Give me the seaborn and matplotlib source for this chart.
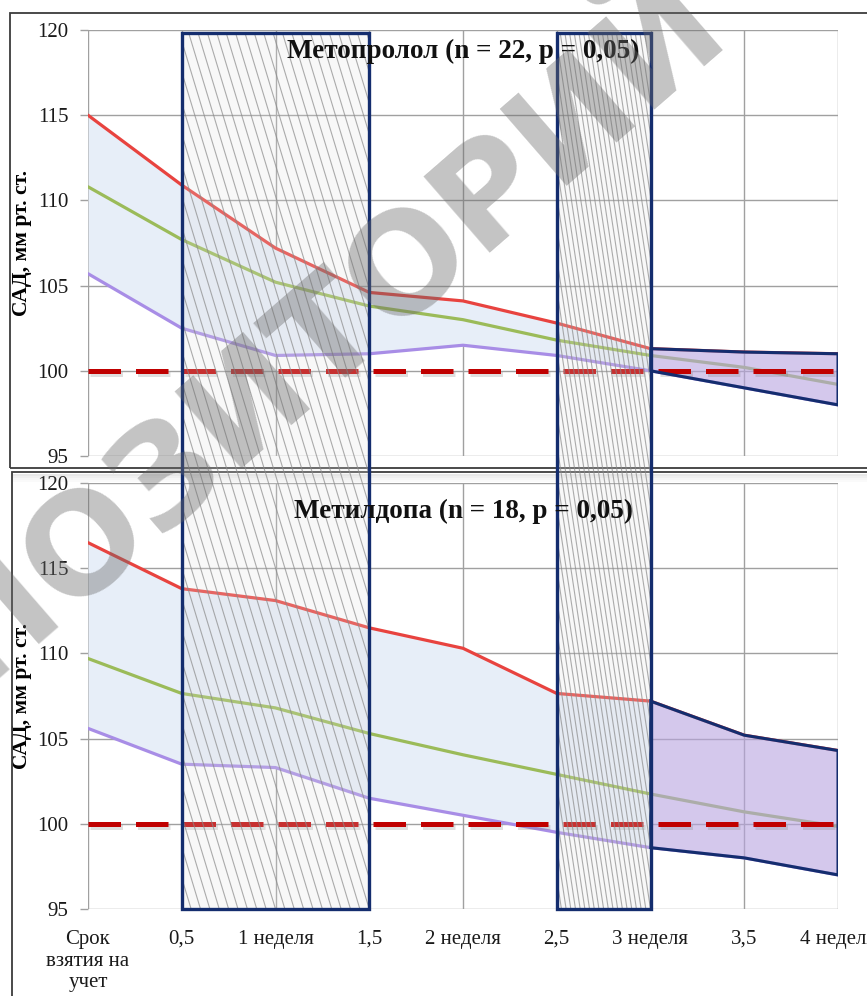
import numpy as np
import pandas as pd
import matplotlib
matplotlib.use("Agg")
import matplotlib.pyplot as plt
import seaborn as sns
from matplotlib.patches import Rectangle, Polygon
from matplotlib.lines import Line2D
import matplotlib.patheffects as pe

# ---------------- data ----------------
x_labels = ["Срок\nвзятия на\nучет", "0,5", "1 неделя", "1,5", "2 неделя",
            "2,5", "3 неделя", "3,5", "4 неделя"]
x_pos = list(range(len(x_labels)))

meto_upper = [115.0, 110.9, 107.2, 104.6, 104.1, 102.8, 101.3, 101.1, 101.0]
meto_mean = [110.8, 107.7, 105.2, 103.8, 103.0, 101.8, 100.9, 100.2, 99.2]
meto_lower = [105.7, 102.5, 100.9, 101.0, 101.5, 100.9, 100.0, 99.0, 98.0]

metil_upper = [116.5, 113.8, 113.1, 111.5, 110.3, 107.65, 107.2, 105.2, 104.3]
metil_mean = [109.7, 107.65, 106.8, 105.3, 104.05, 102.9, 101.75, 100.7, 99.85]
metil_lower = [105.6, 103.5, 103.3, 101.5, 100.5, 99.5, 98.6, 98.0, 97.0]

titles = ["Метопролол (n = 22, p = 0,05)", "Метилдопа (n = 18, p = 0,05)"]
ylabel = "САД, мм рт. ст."
reference_level = 100
y_ticks = [95, 100, 105, 110, 115, 120]
highlight_spans = [(1, 3), (5, 6)]   # x positions: 0,5–1,5 and 2,5–3 недели
final_span_start = 6                 # from "3 неделя" to the end
watermark = "РЕПОЗИТОРИЙ"

# ---------------- style ----------------
sns.set_theme(style="white")
plt.rcParams['font.family'] = ['Liberation Serif', 'DejaVu Serif']

RED = "#e8433f"
GREEN = "#9bbb59"
PURPLE = "#a88de6"
FILL_BLUE = "#e7eef8"
FILL_PURPLE = "#b8a4e0"
NAVY = "#142d6e"
DASH_RED = "#c00000"
GRID = "#a0a0a0"

W, H = 867, 996
fig = plt.figure(figsize=(W / 100, H / 100), dpi=100)

def fx(px):
    return px / W

def fy(py):
    return 1 - py / H

ax_top = fig.add_axes([fx(88), fy(456), fx(838) - fx(88), fy(30) - fy(456)])
ax_bot = fig.add_axes([fx(88), fy(909), fx(838) - fx(88), fy(483) - fy(909)])

panels = [
    (ax_top, meto_upper, meto_mean, meto_lower, titles[0], 0.95),
    (ax_bot, metil_upper, metil_mean, metil_lower, titles[1], 0.934),
]

for ax, up, mid, lo, title, ty in panels:
    ax.set_xlim(0, len(x_pos) - 1)
    ax.set_ylim(min(y_ticks), max(y_ticks))
    ax.set_xticks(x_pos)
    ax.set_yticks(y_ticks)
    ax.grid(True, color=GRID, lw=1.0)
    ax.set_axisbelow(True)
    for s in ax.spines.values():
        s.set_visible(False)

    xs = np.array(x_pos, dtype=float)
    up_a, lo_a = np.array(up), np.array(lo)
    mask = xs <= final_span_start
    ax.fill_between(xs[mask], lo_a[mask], up_a[mask], color=FILL_BLUE, lw=0, zorder=1)

    df = pd.DataFrame({"x": xs, "up": up, "mid": mid, "lo": lo})
    sns.lineplot(data=df, x="x", y="up", color=RED, lw=2.3, ax=ax, zorder=3)
    sns.lineplot(data=df, x="x", y="mid", color=GREEN, lw=2.3, ax=ax, zorder=3)
    sns.lineplot(data=df, x="x", y="lo", color=PURPLE, lw=2.3, ax=ax, zorder=3)

    m2 = xs >= final_span_start
    poly_pts = list(zip(xs[m2], up_a[m2])) + list(zip(xs[m2][::-1], lo_a[m2][::-1]))
    ax.add_patch(Polygon(poly_pts, closed=True, facecolor=FILL_PURPLE, alpha=0.6,
                         edgecolor='none', zorder=4))
    ax.add_patch(Polygon(poly_pts, closed=True, facecolor='none',
                         edgecolor=NAVY, lw=2.2, zorder=6))

    ax.axhline(reference_level, color=DASH_RED, lw=3.6, dashes=(6.5, 3.0), zorder=5,
               path_effects=[pe.SimpleLineShadow(offset=(1.5, -2.5), alpha=0.25,
                                                 shadow_color='gray'), pe.Normal()])

    ax.tick_params(axis='y', length=6, color=GRID, width=1, pad=8, labelsize=15,
                   labelcolor='#1a1a1a', left=True)
    ax.set_ylabel(ylabel, fontsize=15.5, fontweight='bold', color='black')
    ax.yaxis.set_label_coords(-0.075, 0.5)
    ax.set_xlabel("")

    fig.text(0.5, ty, title, transform=ax.transAxes, ha='center', va='center',
             fontsize=19.5, fontweight='bold', color='#111111', zorder=8)

ax_top.tick_params(axis='x', length=0, labelbottom=False)
ax_bot.set_xticklabels(x_labels)
ax_bot.tick_params(axis='x', length=0, pad=15, labelsize=15, labelcolor='#1a1a1a')
for t in ax_bot.get_xticklabels():
    t.set_linespacing(1.2)
    t.set_verticalalignment('top')

# ---------------- panel frames ----------------
fig.add_artist(Rectangle((fx(10), fy(468)), fx(875) - fx(10), fy(13) - fy(468),
                         transform=fig.transFigure, fill=False, ec='#3c3c3c', lw=1.3, zorder=0.5))
fig.add_artist(Rectangle((fx(12), fy(1005)), fx(875) - fx(12), fy(472) - fy(1005),
                         transform=fig.transFigure, fill=False, ec='#3c3c3c', lw=1.3, zorder=0.5))
for i, a in enumerate([0.18, 0.12, 0.07, 0.04]):
    fig.add_artist(Rectangle((fx(12), fy(476 + 2 * i)), fx(875) - fx(12), fx(2) * W / H,
                             transform=fig.transFigure, fc='gray', ec='none', alpha=a, zorder=0.4))

# ---------------- highlighted periods (spanning both panels) ----------------
inv = fig.transFigure.inverted()
for x0, x1 in highlight_spans:
    bl = inv.transform(ax_bot.transData.transform((x0, min(y_ticks))))
    tr = inv.transform(ax_top.transData.transform((x1, 119.8)))
    rect = Rectangle(bl, tr[0] - bl[0], tr[1] - bl[1], transform=fig.transFigure,
                     facecolor=(0.88, 0.88, 0.88, 0.22), edgecolor='none', zorder=6)
    fig.add_artist(rect)
    wpx = (tr[0] - bl[0]) * W
    hpx = (tr[1] - bl[1]) * H
    n_lines = 20
    step = wpx / n_lines
    shift = 0.3 * (wpx / 186.0) * hpx
    x_left_px = bl[0] * W
    starts = np.arange(x_left_px - shift, x_left_px + wpx + step, step)
    for s in starts:
        ln = Line2D([s / W, (s + shift) / W], [tr[1], bl[1]], transform=fig.transFigure,
                    color='#8a8a8a', lw=0.8, alpha=0.7, zorder=6.5)
        ln.set_clip_path(rect)
        fig.add_artist(ln)
    fig.add_artist(Rectangle(bl, tr[0] - bl[0], tr[1] - bl[1], transform=fig.transFigure,
                             facecolor='none', edgecolor=NAVY, lw=2.4, zorder=7))

# ---------------- watermark ----------------
fig.text(fx(255), fy(395), watermark, ha='center', va='center', rotation=41,
         rotation_mode='anchor', fontsize=100, fontweight='bold', family='DejaVu Sans',
         color='#6a6a6a', alpha=0.4, zorder=10)

fig.savefig("out.png", dpi=100)
